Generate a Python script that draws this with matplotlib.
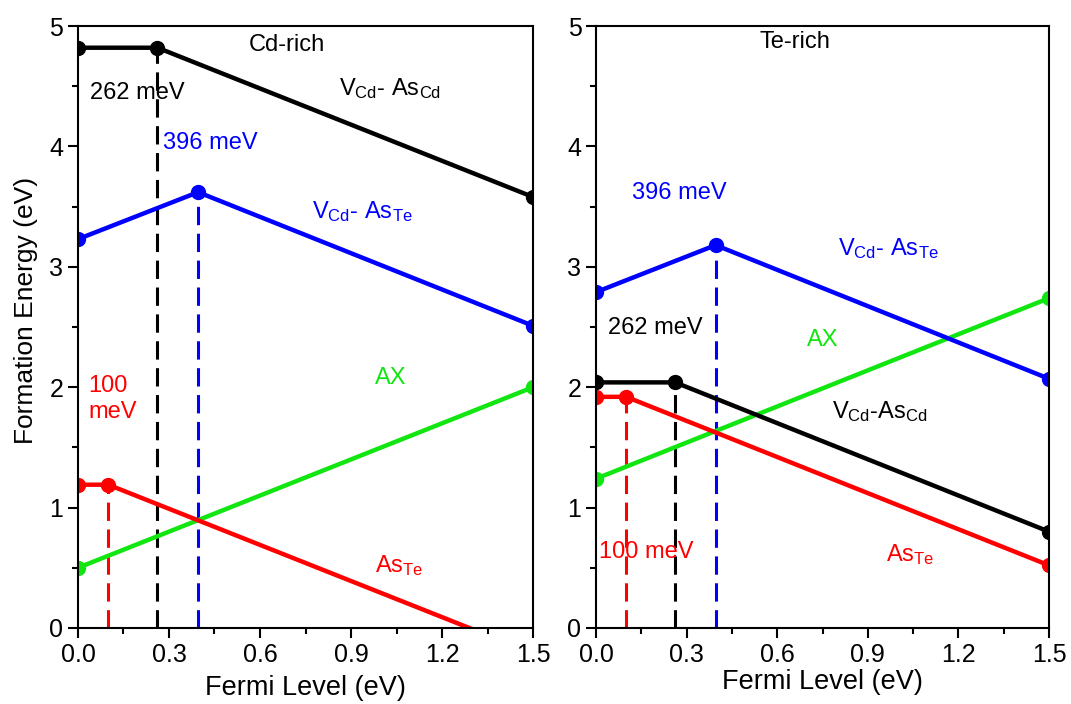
import matplotlib
matplotlib.use('Agg')
import matplotlib.pyplot as plt
from matplotlib.ticker import MultipleLocator

plt.rcParams['font.family'] = ['Liberation Sans', 'DejaVu Sans']
plt.rcParams['mathtext.fontset'] = 'custom'
plt.rcParams['mathtext.rm'] = 'Liberation Sans'
plt.rcParams['mathtext.it'] = 'Liberation Sans'

# transition levels (eV)
e_vcd_ascd = 0.262
e_vcd_aste = 0.396
e_aste = 0.1

# Cd-rich panel
cd_black_x = [0.0, 0.262, 1.5]
cd_black_y = [4.82, 4.82, 3.58]
cd_blue_x = [0.0, 0.396, 1.5]
cd_blue_y = [3.23, 3.62, 2.51]
cd_green_x = [0.0, 1.5]
cd_green_y = [0.50, 2.00]
cd_red_x = [0.0, 0.1, 1.5]
cd_red_y = [1.19, 1.19, -0.21]

# Te-rich panel
te_black_x = [0.0, 0.262, 1.5]
te_black_y = [2.04, 2.04, 0.80]
te_blue_x = [0.0, 0.396, 1.5]
te_blue_y = [2.79, 3.18, 2.07]
te_green_x = [0.0, 1.5]
te_green_y = [1.24, 2.74]
te_red_x = [0.0, 0.1, 1.5]
te_red_y = [1.92, 1.92, 0.52]

black = 'black'
blue = '#0000ff'
green = '#11e611'
red = '#ff0000'

fig = plt.figure(figsize=(10.71, 7.04), dpi=100)
ax1 = fig.add_axes([0.0728, 0.108, 0.4249, 0.855])
ax2 = fig.add_axes([0.5565, 0.108, 0.4230, 0.855])


def draw(ax, bx, by, ux, uy, gx, gy, rx, ry):
    lw = 3.2
    ms = 10
    dash = (0, (6, 2.8))
    # dashed drop lines at the transition levels
    ax.plot([e_vcd_ascd, e_vcd_ascd], [0, by[1]], color=black, ls=dash, lw=2.2)
    ax.plot([e_vcd_aste, e_vcd_aste], [0, uy[1]], color=blue, ls=dash, lw=2.2)
    ax.plot([e_aste, e_aste], [0, ry[1]], color=red, ls=dash, lw=2.2)
    ax.plot(gx, gy, color=green, lw=lw, marker='o', ms=ms)
    ax.plot(rx, ry, color=red, lw=lw, marker='o', ms=ms)
    ax.plot(bx, by, color=black, lw=lw, marker='o', ms=ms)
    ax.plot(ux, uy, color=blue, lw=lw, marker='o', ms=ms)
    ax.set_xlim(0, 1.5)
    ax.set_ylim(0, 5)
    ax.set_xticks([0.0, 0.3, 0.6, 0.9, 1.2, 1.5])
    ax.set_xticklabels(['0.0', '0.3', '0.6', '0.9', '1.2', '1.5'])
    ax.set_yticks([0, 1, 2, 3, 4, 5])
    ax.xaxis.set_minor_locator(MultipleLocator(0.15))
    ax.yaxis.set_minor_locator(MultipleLocator(0.5))
    ax.tick_params(which='major', direction='out', length=7, width=1.5, labelsize=18)
    ax.tick_params(which='minor', direction='out', length=4, width=1.5)
    ax.tick_params(top=False, right=False, which='both')
    for s in ax.spines.values():
        s.set_linewidth(1.5)


draw(ax1, cd_black_x, cd_black_y, cd_blue_x, cd_blue_y,
     cd_green_x, cd_green_y, cd_red_x, cd_red_y)
draw(ax2, te_black_x, te_black_y, te_blue_x, te_blue_y,
     te_green_x, te_green_y, te_red_x, te_red_y)

ax1.set_xlabel('Fermi Level (eV)', fontsize=19.5, labelpad=6)
ax2.set_xlabel('Fermi Level (eV)', fontsize=19.5, labelpad=2)
ax1.set_ylabel('Formation Energy (eV)', fontsize=19, labelpad=3)
ax1.yaxis.set_label_coords(-0.088, 0.528)

fs = 17
# Cd-rich labels
ax1.text(0.69, 4.84, 'Cd-rich', fontsize=fs, ha='center', va='center')
ax1.text(0.04, 4.44, '262 meV', fontsize=fs, va='center', color=black)
ax1.text(0.86, 4.48, r'V$_{\mathrm{Cd}}$- As$_{\mathrm{Cd}}$', fontsize=fs, va='center', color=black)
ax1.text(0.28, 4.03, '396 meV', fontsize=fs, va='center', color=blue)
ax1.text(0.77, 3.46, r'V$_{\mathrm{Cd}}$- As$_{\mathrm{Te}}$', fontsize=fs, va='center', color=blue)
ax1.text(0.035, 2.10, '100\nmeV', fontsize=fs, va='top', color=red, linespacing=1.2)
ax1.text(0.98, 2.08, 'AX', fontsize=fs, va='center', color=green)
ax1.text(0.98, 0.52, r'As$_{\mathrm{Te}}$', fontsize=fs, va='center', color=red)

# Te-rich labels
ax2.text(0.66, 4.87, 'Te-rich', fontsize=fs, ha='center', va='center')
ax2.text(0.12, 3.61, '396 meV', fontsize=fs, va='center', color=blue)
ax2.text(0.80, 3.15, r'V$_{\mathrm{Cd}}$- As$_{\mathrm{Te}}$', fontsize=fs, va='center', color=blue)
ax2.text(0.04, 2.49, '262 meV', fontsize=fs, va='center', color=black)
ax2.text(0.70, 2.39, 'AX', fontsize=fs, va='center', color=green)
ax2.text(0.78, 1.80, r'V$_{\mathrm{Cd}}$-As$_{\mathrm{Cd}}$', fontsize=fs, va='center', color=black)
ax2.text(0.01, 0.63, '100 meV', fontsize=fs, va='center', color=red)
ax2.text(0.96, 0.61, r'As$_{\mathrm{Te}}$', fontsize=fs, va='center', color=red)

fig.savefig('out.png', dpi=100)
